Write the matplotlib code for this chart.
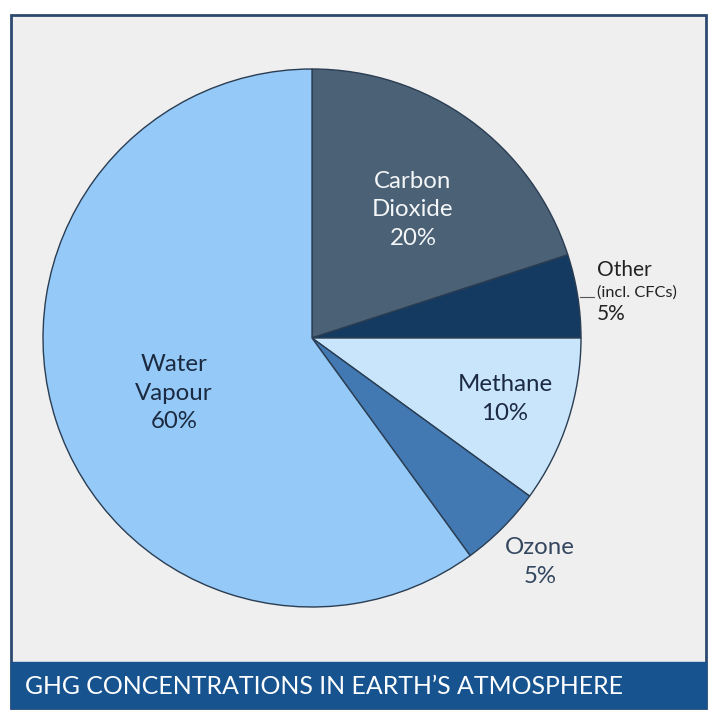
import matplotlib
matplotlib.use("Agg")
import matplotlib.pyplot as plt
from matplotlib.patches import Rectangle

plt.rcParams['font.family'] = ['Lato', 'DejaVu Sans']

labels = ["Carbon\nDioxide\n20%", "Other", "Methane\n10%", "Ozone\n5%", "Water\nVapour\n60%"]
values = [20, 5, 10, 5, 60]
colors = ["#4b6176", "#143a61", "#c9e5fc", "#4279b2", "#95c9f8"]
title = "GHG CONCENTRATIONS IN EARTH\u2019S ATMOSPHERE"

W = H = 720
fig = plt.figure(figsize=(7.2, 7.2), dpi=100)
fig.patch.set_facecolor("white")

def fx(px): return px / W
def fy(py): return 1 - py / H

# frame background
fig.patches.append(Rectangle((fx(11), fy(708)), fx(706) - fx(11), fy(15) - fy(708),
                             transform=fig.transFigure, facecolor="#efefef",
                             edgecolor="#2c4a70", linewidth=2, zorder=-2))
# banner
fig.patches.append(Rectangle((fx(11), fy(708)), fx(706) - fx(11), fy(662) - fy(708),
                             transform=fig.transFigure, facecolor="#17548f",
                             edgecolor="#17548f", linewidth=1, zorder=-1))
fig.text(fx(25), fy(686), title, color="white", fontsize=17.9, va="center", ha="left",
         zorder=3)

cx, cy, R = 312, 338, 269
ax = fig.add_axes([fx(cx - R), fy(cy + R), 2 * R / W, 2 * R / H])
ax.set_zorder(2)
ax.axis("off")
ax.patch.set_alpha(0)

ax.pie(values, colors=colors, startangle=90, counterclock=False, radius=1,
       wedgeprops=dict(edgecolor="#2a3d52", linewidth=1))
ax.set_xlim(-1, 1)
ax.set_ylim(-1, 1)
ax.set_aspect("equal")

def d(px, py):
    return ((px - cx) / R, (cy - py) / R)

fs = 17.3
ls = 1.45
ax.text(*d(413, 210), labels[0], ha="center", va="center", fontsize=fs, color="#f4f6f8",
        linespacing=ls)
ax.text(*d(174, 393), labels[4], ha="center", va="center", fontsize=fs, color="#1b2a40",
        linespacing=ls)
ax.text(*d(505, 399), labels[2], ha="center", va="center", fontsize=fs, color="#1b2a40",
        linespacing=ls)
ax.text(*d(540, 562), labels[3], ha="center", va="center", fontsize=fs, color="#34475f",
        linespacing=ls, clip_on=False)
# Other label
ax.text(*d(597, 270), "Other", ha="left", va="center", fontsize=15, color="#222222",
        clip_on=False)
ax.text(*d(597, 293), "(incl. CFCs)", ha="left", va="center", fontsize=11.8, color="#222222",
        clip_on=False)
ax.text(*d(597, 314), "5%", ha="left", va="center", fontsize=15, color="#222222",
        clip_on=False)
x0, y0 = d(580, 297)
x1, y1 = d(594, 297)
ax.plot([x0, x1], [y0, y1], color="#555555", linewidth=0.8, clip_on=False)

fig.savefig("out.png", dpi=100, facecolor="white")
